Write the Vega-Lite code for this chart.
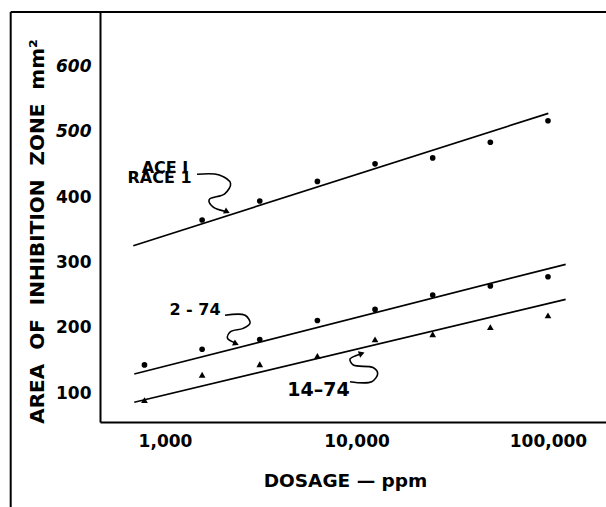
{
  "$schema": "https://vega.github.io/schema/vega-lite/v6.json",
  "width": 506,
  "height": 410,
  "autosize": "none",
  "padding": {"left": 100, "top": 12, "right": 0, "bottom": 85},
  "background": "white",
  "config": {"view": {"stroke": null}, "font": "DejaVu Sans"},
  "datasets": {
    "obs": [
      {"series": "RACE 1", "dosage": 1562.5, "area": 365},
      {"series": "RACE 1", "dosage": 3125, "area": 394},
      {"series": "RACE 1", "dosage": 6250, "area": 424},
      {"series": "RACE 1", "dosage": 12500, "area": 451},
      {"series": "RACE 1", "dosage": 25000, "area": 460},
      {"series": "RACE 1", "dosage": 50000, "area": 484},
      {"series": "RACE 1", "dosage": 100000, "area": 517},
      {"series": "2-74", "dosage": 781.25, "area": 143},
      {"series": "2-74", "dosage": 1562.5, "area": 167},
      {"series": "2-74", "dosage": 3125, "area": 182},
      {"series": "2-74", "dosage": 6250, "area": 211},
      {"series": "2-74", "dosage": 12500, "area": 228},
      {"series": "2-74", "dosage": 25000, "area": 250},
      {"series": "2-74", "dosage": 50000, "area": 264},
      {"series": "2-74", "dosage": 100000, "area": 278},
      {"series": "14-74", "dosage": 781.25, "area": 89},
      {"series": "14-74", "dosage": 1562.5, "area": 128},
      {"series": "14-74", "dosage": 3125, "area": 144},
      {"series": "14-74", "dosage": 6250, "area": 157},
      {"series": "14-74", "dosage": 12500, "area": 182},
      {"series": "14-74", "dosage": 25000, "area": 190},
      {"series": "14-74", "dosage": 50000, "area": 201},
      {"series": "14-74", "dosage": 100000, "area": 219}
    ],
    "fits": [
      {"series": "RACE 1", "dosage": 683, "area": 325.6},
      {"series": "RACE 1", "dosage": 100370, "area": 528.3},
      {"series": "2-74", "dosage": 691, "area": 129.1},
      {"series": "2-74", "dosage": 123700, "area": 297.1},
      {"series": "14-74", "dosage": 691, "area": 85.8},
      {"series": "14-74", "dosage": 123700, "area": 243.5}
    ],
    "arrows": [
      {"arrow": "RACE 1", "i": 1, "dosage": 1470, "area": 435},
      {"arrow": "RACE 1", "i": 2, "dosage": 1920, "area": 434},
      {"arrow": "RACE 1", "i": 3, "dosage": 2200, "area": 421},
      {"arrow": "RACE 1", "i": 4, "dosage": 2050, "area": 405},
      {"arrow": "RACE 1", "i": 5, "dosage": 1700, "area": 396},
      {"arrow": "RACE 1", "i": 6, "dosage": 1780, "area": 385},
      {"arrow": "RACE 1", "i": 7, "dosage": 2080, "area": 378},
      {"arrow": "2-74", "i": 1, "dosage": 2058, "area": 219},
      {"arrow": "2-74", "i": 2, "dosage": 2620, "area": 219},
      {"arrow": "2-74", "i": 3, "dosage": 2780, "area": 207},
      {"arrow": "2-74", "i": 4, "dosage": 2560, "area": 199},
      {"arrow": "2-74", "i": 5, "dosage": 2200, "area": 194},
      {"arrow": "2-74", "i": 6, "dosage": 2120, "area": 184},
      {"arrow": "2-74", "i": 7, "dosage": 2330, "area": 177},
      {"arrow": "14-74", "i": 1, "dosage": 9248, "area": 117.3},
      {"arrow": "14-74", "i": 2, "dosage": 12006, "area": 117.3},
      {"arrow": "14-74", "i": 3, "dosage": 12901, "area": 130},
      {"arrow": "14-74", "i": 4, "dosage": 12200, "area": 139},
      {"arrow": "14-74", "i": 5, "dosage": 9623, "area": 142.9},
      {"arrow": "14-74", "i": 6, "dosage": 9248, "area": 152},
      {"arrow": "14-74", "i": 7, "dosage": 9900, "area": 157},
      {"arrow": "14-74", "i": 8, "dosage": 10500, "area": 159.5}
    ],
    "heads": [
      {"arrow": "RACE 1", "dosage": 2110, "area": 377.5},
      {"arrow": "2-74", "dosage": 2350, "area": 175.5},
      {"arrow": "14-74", "dosage": 10650, "area": 160.5}
    ],
    "notes": [
      {"label": "RACE 1", "dosage": 936, "area": 429.3},
      {"label": "ACE I", "dosage": 1000, "area": 444.6},
      {"label": "2 - 74", "dosage": 1434, "area": 227.1}
    ],
    "notes2": [
      {"label": "14–74", "dosage": 6334, "area": 104.6}
    ],
    "frame": [
      {"dosage": 156.4, "dosage2": 200900, "area": 683.5, "area2": 683.5},
      {"dosage": 156.4, "dosage2": 156.4, "area": -80, "area2": 683.5}
    ]
  },
  "encoding": {
    "x": {
      "field": "dosage",
      "type": "quantitative",
      "scale": {"type": "log", "domain": [457.7, 200900], "nice": false},
      "axis": {
        "values": [1000, 10000, 100000],
        "format": ",",
        "labelFont": "DejaVu Sans",
        "labelFontWeight": "bold",
        "labelFontSize": 17,
        "labelColor": "black",
        "labelFlush": false,
        "labelOverlap": false,
        "ticks": false,
        "tickSize": 0,
        "labelPadding": 11,
        "grid": false,
        "domainColor": "black",
        "domainWidth": 2,
        "title": "DOSAGE — ppm",
        "titleFont": "DejaVu Sans",
        "titleFontSize": 18.5,
        "titleFontWeight": "bold",
        "titleColor": "black",
        "titleX": 245,
        "titleY": 64,
        "titleBaseline": "alphabetic",
        "titleAlign": "center"
      }
    },
    "y": {
      "field": "area",
      "type": "quantitative",
      "scale": {"domain": [55.6, 683.5], "nice": false, "zero": false},
      "axis": {
        "values": [100, 200, 300, 400, 500, 600],
        "labelFont": "DejaVu Sans",
        "labelFontWeight": "bold",
        "labelFontSize": 17,
        "labelColor": "black",
        "labelFontStyle": {"condition": {"test": "datum.value >= 500", "value": "italic"}, "value": "normal"},
        "labelOverlap": false,
        "ticks": false,
        "tickSize": 0,
        "labelPadding": 9,
        "grid": false,
        "domainColor": "black",
        "domainWidth": 2,
        "title": "AREA\u00a0 OF\u00a0 INHIBITION\u00a0 ZONE\u00a0 mm²",
        "titleFont": "DejaVu Sans",
        "titleFontSize": 20,
        "titleFontWeight": "bold",
        "titleColor": "black",
        "titleAngle": 270,
        "titleX": -57,
        "titleY": 219,
        "titleBaseline": "alphabetic",
        "titleAlign": "center"
      }
    }
  },
  "layer": [
    {
      "data": {"name": "frame"},
      "mark": {"type": "rule", "color": "black", "strokeWidth": 2},
      "encoding": {
        "x2": {"field": "dosage2"},
        "y2": {"field": "area2"}
      }
    },
    {
      "data": {"name": "fits"},
      "mark": {"type": "line", "color": "black", "strokeWidth": 1.7},
      "encoding": {"detail": {"field": "series"}}
    },
    {
      "data": {"name": "obs"},
      "mark": {"type": "point", "filled": true, "color": "black", "opacity": 1},
      "encoding": {
        "shape": {
          "field": "series",
          "scale": {"domain": ["RACE 1", "2-74", "14-74"], "range": ["circle", "circle", "triangle-up"]},
          "legend": null
        },
        "size": {"condition": {"test": "datum.series === '14-74'", "value": 45}, "value": 32}
      }
    },
    {
      "data": {"name": "arrows"},
      "mark": {"type": "line", "color": "black", "strokeWidth": 1.6, "interpolate": "catmull-rom"},
      "encoding": {
        "detail": {"field": "arrow"},
        "order": {"field": "i", "type": "quantitative"}
      }
    },
    {
      "data": {"name": "heads"},
      "transform": [{"filter": "datum.arrow !== '14-74'"}],
      "mark": {"type": "point", "filled": true, "color": "black", "opacity": 1, "shape": "triangle-up", "size": 45, "angle": 115}
    },
    {
      "data": {"name": "heads"},
      "transform": [{"filter": "datum.arrow === '14-74'"}],
      "mark": {"type": "point", "filled": true, "color": "black", "opacity": 1, "shape": "triangle-up", "size": 45, "angle": 70}
    },
    {
      "data": {"name": "notes"},
      "mark": {"type": "text", "font": "DejaVu Sans", "fontWeight": "bold", "fontSize": 16, "align": "center", "baseline": "middle", "color": "black"},
      "encoding": {"text": {"field": "label"}}
    },
    {
      "data": {"name": "notes2"},
      "mark": {"type": "text", "font": "DejaVu Sans", "fontWeight": "bold", "fontSize": 19, "align": "center", "baseline": "middle", "color": "black"},
      "encoding": {"text": {"field": "label"}}
    }
  ]
}
